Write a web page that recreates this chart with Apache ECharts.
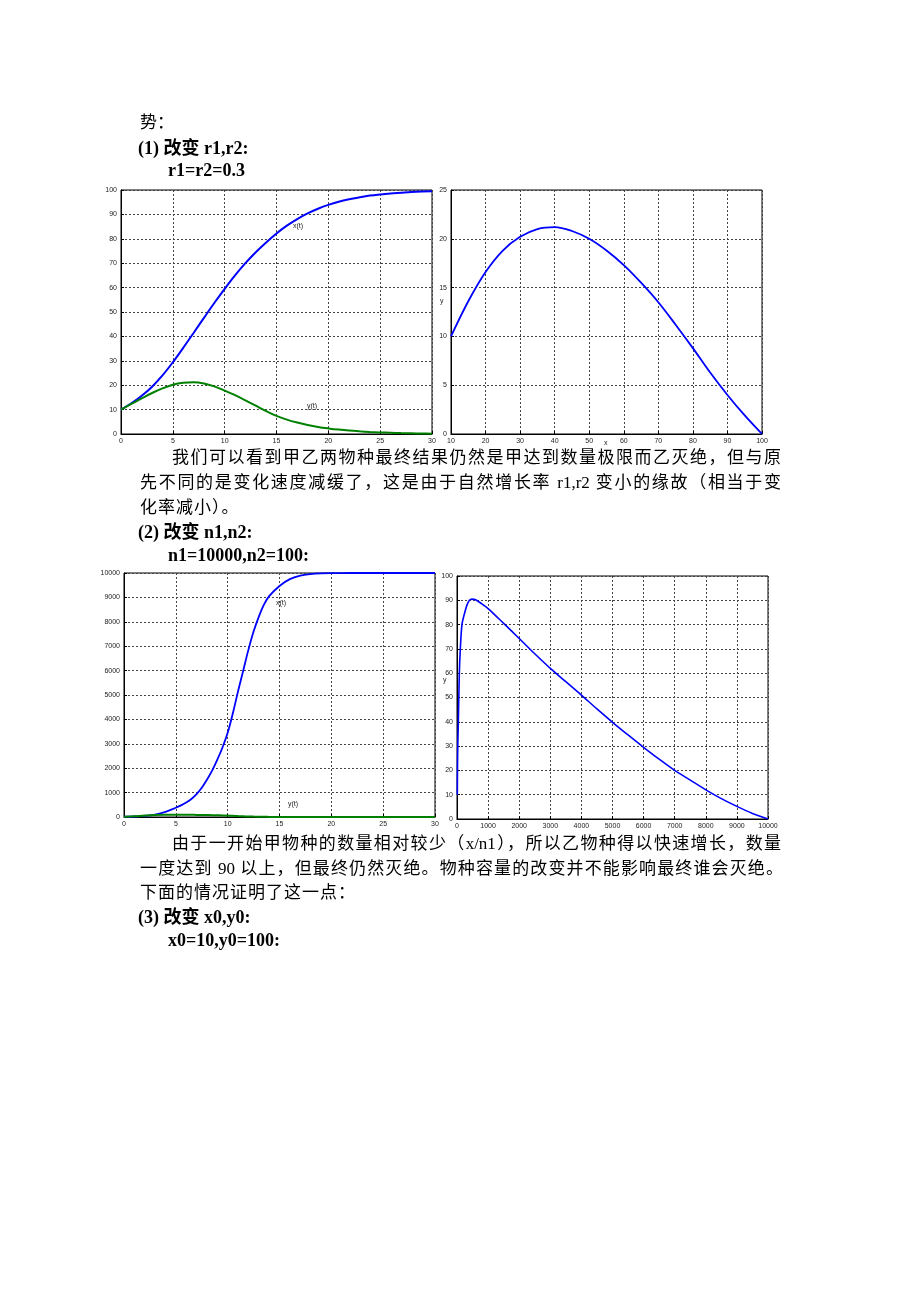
<!DOCTYPE html>
<html><head><meta charset="utf-8">
<script src="https://cdn.jsdelivr.net/npm/echarts@6/dist/echarts.min.js"></script>
<style>
html,body{margin:0;padding:0;background:#fff;}
#page{position:relative;width:920px;height:1302px;overflow:hidden;background:#fff;}
#chart{position:absolute;left:0;top:0;width:920px;height:1302px;}
.t{position:absolute;font-family:"Liberation Serif","Noto Sans CJK SC",serif;font-size:17px;line-height:22px;height:22px;color:#000;white-space:nowrap;}
.j{text-align:justify;text-align-last:justify;white-space:normal;overflow:hidden;}
.b{font-weight:bold;font-size:18px;}
</style></head>
<body><div id="page">
<div id="chart"></div>
<div class="t" style="left:140px;top:112px;">势：</div>
<div class="t b" style="left:138px;top:137px;">(1) 改变 r1,r2:</div>
<div class="t b" style="left:168px;top:159px;">r1=r2=0.3</div>

<div class="t j" style="left:172px;top:447px;width:609px;">我们可以看到甲乙两物种最终结果仍然是甲达到数量极限而乙灭绝，但与原</div>
<div class="t j" style="left:140px;top:472px;width:641px;">先不同的是变化速度减缓了，这是由于自然增长率 r1,r2 变小的缘故（相当于变</div>
<div class="t" style="left:140px;top:497px;letter-spacing:1px;">化率减小）。</div>
<div class="t b" style="left:138px;top:521px;">(2) 改变 n1,n2:</div>
<div class="t b" style="left:168px;top:544px;">n1=10000,n2=100:</div>

<div class="t j" style="left:172px;top:833px;width:609px;">由于一开始甲物种的数量相对较少（x/n1），所以乙物种得以快速增长，数量</div>
<div class="t j" style="left:140px;top:858px;width:643px;">一度达到 90 以上，但最终仍然灭绝。物种容量的改变并不能影响最终谁会灭绝。</div>
<div class="t" style="left:140px;top:882px;letter-spacing:1px;">下面的情况证明了这一点：</div>
<div class="t b" style="left:138px;top:906px;">(3) 改变 x0,y0:</div>
<div class="t b" style="left:168px;top:929px;">x0=10,y0=100:</div>
</div>
<script>
// ---- Chart 1: r1=r2=0.3, time series ----
var t1 = [0,1,2,3,4,5,6,7,8,9,10,11,12,13,14,15,16,17,18,19,20,21,22,23,24,25,26,27,28,29,30];
var x1 = [10,12.6,15.7,19.4,24,29.4,35.3,41.4,47.6,53.7,59.5,65,70,74.5,78.5,82.2,85.4,88.1,90.4,92.3,93.9,95.2,96.2,97,97.7,98.2,98.6,98.9,99.2,99.4,99.5];
var y1 = [10,12.3,14.6,16.8,18.7,20.2,21,21.2,20.7,19.5,17.8,15.9,13.8,11.6,9.4,7.4,5.9,4.7,3.7,2.9,2.3,1.8,1.4,1.1,0.85,0.65,0.5,0.38,0.28,0.2,0.15];
// ---- Chart 2: phase plot y vs x ----
var px2 = [10,15,20,25,30,35,40,45,50,55,60,65,70,75,80,85,90,95,100];
var py2 = [10,13.6,16.6,18.8,20.2,21,21.2,20.8,20,18.8,17.3,15.5,13.5,11.2,8.8,6.3,4,1.9,0];
// ---- Chart 3: n1=10000,n2=100, time series ----
var t3 = [0,1,2,3,4,5,5.5,6,6.5,7,7.5,8,8.5,9,9.5,10,10.5,11,11.5,12,12.5,13,13.5,14,15,16,17,18,19,20,22,24,26,28,30];
var x3 = [10,20,45,100,210,380,475,590,740,940,1200,1530,1900,2350,2850,3450,4250,5150,6000,6850,7600,8200,8700,9050,9470,9750,9890,9955,9985,9995,9999,10000,10000,10000,10000];
var y3 = [10,30,58,80,88,90,90.2,90.3,89,87,84,80,75.5,70,64,57,48,38,29.5,21.5,15.5,10.5,7,4.8,2.5,1.2,0.6,0.3,0.15,0.1,0.04,0.02,0.01,0,0];
// ---- Chart 4: phase plot y vs x ----
var px4 = [10,15,25,43,75,107,160,250,320,400,480,600,800,1000,1500,2000,2500,3000,3500,4000,4500,5000,5500,6000,6500,7000,7500,8000,8500,9000,9500,10000];
var py4 = [10,20,30,40,60,70,80,85,88,90,90.5,90.2,88.5,86.6,80.5,74.3,68,62,56.5,51,45.3,39.8,34.6,29.5,24.6,20,16,12,8.4,5.2,2.3,0];

function pairs(a,b){ return a.map(function(v,i){ return [v,b[i]]; }); }

var grids = [
  {left:121, top:190, width:311, height:244},
  {left:451, top:190, width:311, height:244},
  {left:124, top:573, width:311, height:244},
  {left:457, top:576, width:311, height:243}
].map(function(g){ return Object.assign({show:true, borderColor:'#000', borderWidth:1, backgroundColor:'#fff', containLabel:false}, g); });

function ax(idx,min,max,interval){
  return {
    type:'value', gridIndex:idx, min:min, max:max, interval:interval,
    axisLine:{show:true, onZero:false, lineStyle:{color:'#000', width:1}},
    axisTick:{show:true, inside:true, length:3, lineStyle:{color:'#000'}},
    axisLabel:{fontSize:7, color:'#222', margin:4, fontFamily:'Liberation Sans', hideOverlap:false, showMinLabel:true, showMaxLabel:true,
      formatter:function(v){ return String(v); }},
    splitLine:{show:true, lineStyle:{color:'#444', type:[2,2], width:1}}
  };
}

var lbl = function(x,y,txt){ return {type:'text', left:x, top:y, z:100, style:{text:txt, fontSize:7, fill:'#222', fontFamily:'Liberation Sans'}}; };

var chart = echarts.init(document.getElementById('chart'), null, {renderer:'canvas'});
chart.setOption({
  animation:false,
  backgroundColor:'transparent',
  grid: grids,
  xAxis:[ ax(0,0,30,5), ax(1,10,100,10), ax(2,0,30,5), ax(3,0,10000,1000) ],
  yAxis:[ ax(0,0,100,10), ax(1,0,25,5), ax(2,0,10000,1000), ax(3,0,100,10) ],
  series:[
    {type:'line', xAxisIndex:0, yAxisIndex:0, data:pairs(t1,x1), smooth:0.35, showSymbol:false, lineStyle:{color:'#0000ff', width:2}},
    {type:'line', xAxisIndex:0, yAxisIndex:0, data:pairs(t1,y1), smooth:0.35, showSymbol:false, lineStyle:{color:'#008000', width:2}},
    {type:'line', xAxisIndex:1, yAxisIndex:1, data:pairs(px2,py2), smooth:0.35, showSymbol:false, lineStyle:{color:'#0000ff', width:1.8}},
    {type:'line', xAxisIndex:2, yAxisIndex:2, data:pairs(t3,x3), smooth:0.35, showSymbol:false, lineStyle:{color:'#0000ff', width:1.8}},
    {type:'line', xAxisIndex:2, yAxisIndex:2, data:pairs(t3,y3), smooth:0.35, showSymbol:false, lineStyle:{color:'#008000', width:2}},
    {type:'line', xAxisIndex:3, yAxisIndex:3, data:pairs(px4,py4), smooth:0.3, showSymbol:false, lineStyle:{color:'#0000ff', width:1.6}}
  ],
  graphic:[
    lbl(293,223,'x(t)'), lbl(307,403,'y(t)'),
    lbl(276,600,'x(t)'), lbl(288,801,'y(t)'),
    lbl(440,298,'y'), lbl(604,440,'x'), lbl(443,677,'y')
  ]
});
</script>
</body></html>
